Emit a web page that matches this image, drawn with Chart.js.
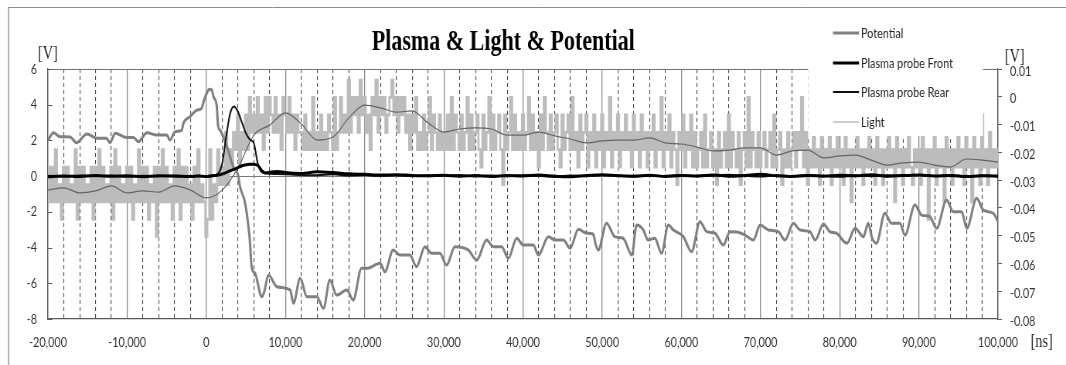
<!DOCTYPE html>
<html><head><meta charset="utf-8">
<script src="https://cdn.jsdelivr.net/npm/chart.js@4.4.1/dist/chart.umd.min.js"></script>
<style>
html,body{margin:0;padding:0;background:#fff;overflow:hidden;width:1066px;height:365px;}
#wrap{position:absolute;left:0;top:0;width:1379px;height:365px;transform:scaleX(0.7730239);transform-origin:0 0;}
</style></head><body>
<div id="wrap"><canvas id="c"></canvas></div>
<script>
// ---------------- DATA ----------------
const chartTitle = 'Plasma & Light & Potential';
const seriesNames = ['Potential', 'Plasma probe Front', 'Plasma probe Rear', 'Light'];
const xTickLabels = ['-20,000','-10,000','0','10,000','20,000','30,000','40,000','50,000','60,000','70,000','80,000','90,000','100,000'];

// Potential [V] (left axis)
const potNs = [-20000,-19300,-18500,-17200,-16400,-15100,-13800,-12600,-12200,-11500,-10100,-9200,-8600,-7500,-6300,-5000,-4600,-3950,-3100,-2900,-2050,-1200,-600,-290,50,350,700,900,1300,1500,1730,2600,3400,4000,4250,4900,5450,5750,6150,7000,7300,7850,8900,10600,11000,11850,12700,13950,14800,15600,16450,17750,18550,19600,20250,21950,22550,23600,24450,25700,26550,27600,28450,29500,30350,31400,33100,34150,35400,36250,37300,38150,39200,40050,41300,41950,43200,44050,45100,45950,47000,48050,48850,49200,49500,50550,51600,52650,53750,54350,55200,55800,56650,57500,58350,59000,60250,61300,62350,63200,64250,65300,66150,67000,68050,69100,69950,71000,72250,73100,74150,75000,76250,76900,77950,78750,79600,80900,81950,83000,83600,84100,84650,85700,86550,87600,88250,89500,90350,91400,92250,93500,94350,95400,96050,97300,98150,99400,100000];
const potV = [2.02,2.43,2.21,2.19,1.87,2.36,2.12,2.12,1.87,2.40,2.17,2.17,1.93,2.43,2.30,2.30,2.02,2.49,2.58,2.96,3.33,3.70,3.80,4.26,4.64,4.86,4.82,4.45,3.98,2.77,2.58,1.65,0.53,0.06,-0.59,-1.52,-3.39,-5.16,-5.44,-6.75,-6.49,-5.54,-6.19,-6.38,-7.12,-5.72,-6.75,-6.75,-7.40,-5.82,-6.66,-6.38,-6.94,-5.16,-5.16,-4.88,-5.35,-4.14,-4.42,-4.42,-5.07,-3.95,-4.32,-4.32,-4.98,-3.95,-4.14,-4.70,-3.58,-3.95,-3.95,-4.60,-3.48,-3.86,-3.86,-4.42,-3.39,-3.58,-3.58,-4.04,-2.98,-3.20,-3.24,-3.86,-4.14,-2.64,-3.39,-3.48,-4.42,-2.74,-3.02,-3.58,-3.48,-4.32,-2.74,-3.02,-3.39,-4.23,-2.55,-3.11,-3.20,-3.86,-3.11,-3.13,-3.30,-3.58,-2.74,-3.02,-3.11,-3.58,-2.64,-3.02,-3.11,-3.58,-2.68,-3.11,-3.20,-3.76,-2.92,-3.39,-2.64,-3.47,-3.76,-2.08,-2.64,-2.64,-3.30,-1.62,-2.18,-2.27,-2.92,-1.34,-1.99,-1.99,-2.92,-1.24,-1.90,-2.08,-2.55];

// Plasma probes [V] (left axis)
const probeNs = [-20000,-18000,-16000,-14000,-12000,-10000,-8000,-6000,-4000,-2000,-1000,0,500,1000,1500,2000,2500,3000,3500,4000,4500,5000,5500,6000,6500,7000,7500,8000,9000,10000,12000,14000,16000,18000,20000,22000,24000,26000,28000,30000,32000,34000,36000,38000,40000,42000,44000,46000,48000,50000,52000,54000,56000,58000,60000,62000,64000,66000,68000,70000,72000,74000,76000,78000,80000,82000,84000,86000,88000,90000,92000,94000,96000,98000,100000];
const frontV = [-0.03,0.01,-0.02,0.03,-0.01,0.02,-0.03,0.02,0.0,-0.02,0.01,-0.02,0.0,0.03,0.06,0.12,0.2,0.3,0.38,0.48,0.58,0.64,0.67,0.66,0.6,0.32,0.18,0.22,0.26,0.2,0.15,0.24,0.2,0.13,0.1,0.06,0.08,0.04,0.02,0.05,0.0,0.03,-0.02,0.04,0.01,0.06,0.0,-0.03,0.03,0.08,0.02,0.0,0.05,-0.02,0.03,0.01,0.06,0.0,0.04,0.1,0.02,-0.02,0.03,0.0,0.05,0.02,0.08,0.0,0.03,0.06,0.01,0.04,-0.02,0.02,0.0];
const rearV = [0.02,-0.02,0.04,0.0,0.03,-0.03,0.02,0.0,0.03,-0.01,0.02,0.0,0.03,0.06,0.15,0.7,2.2,3.5,3.9,3.6,3.0,2.4,2.05,1.85,0.7,0.22,0.16,0.14,0.12,0.1,0.06,0.05,0.1,0.04,0.06,0.02,0.05,0.0,0.04,0.01,0.06,-0.02,0.03,0.0,0.05,0.02,-0.03,0.04,0.0,0.06,0.03,-0.02,0.04,0.01,0.05,0.0,0.03,0.08,0.02,-0.02,0.04,0.0,0.06,0.02,-0.03,0.03,0.0,0.05,0.02,0.07,0.01,0.04,0.0,0.03,0.02];

// Light [V] (right axis): quantised oscilloscope levels, sampled every 250 ns from -20000 ns
const lightLevelV = [0.0060,-0.0002,-0.0065,-0.0128,-0.0190,-0.0253,-0.0316,-0.0378,-0.0441,-0.0503];
const lightStartNs = -20000;
const lightStepNs = 250;
const lightLevelIdx = [
5,7,5,7,4,7,6,8,5,7,5,7,6,7,4,8,5,7,5,7,
6,7,5,8,5,7,4,7,5,7,6,7,5,8,4,7,5,7,6,7,
5,7,5,8,6,7,4,7,5,7,5,8,6,7,5,9,5,7,4,7,
5,7,6,8,5,7,4,8,5,7,5,7,6,8,5,7,4,7,6,7,
9,8,4,8,6,7,4,6,5,6,3,6,4,5,3,4,2,5,3,4,
2,4,1,3,2,3,1,3,2,4,1,3,1,2,3,1,3,2,4,1,
2,3,1,3,2,4,2,3,3,4,2,4,3,4,1,4,3,4,2,4,
3,4,2,3,4,1,4,3,1,3,2,3,0,3,1,2,1,3,0,2,
1,3,2,4,1,2,0,3,1,2,1,3,2,1,0,2,1,3,1,2,
1,3,2,4,2,3,1,4,3,4,2,4,3,1,4,2,3,4,2,4,
3,4,2,4,1,4,2,3,4,2,4,3,1,4,2,4,3,2,4,5,
2,4,3,1,4,2,4,3,2,4,6,2,4,3,1,4,2,4,3,4,
2,4,3,1,4,2,4,3,5,2,4,1,3,4,2,4,3,2,4,5,
2,4,3,2,4,1,4,3,5,2,4,3,2,5,3,4,2,5,3,4,
2,5,3,4,1,5,3,4,2,5,3,4,2,4,3,5,2,4,3,5,
2,4,3,5,3,4,2,5,3,4,1,5,3,4,2,5,3,4,6,3,
4,2,5,3,4,2,5,3,5,4,3,5,2,5,4,3,5,4,6,3,
5,4,3,5,2,5,3,4,5,3,6,4,3,5,1,5,3,4,5,3,
5,4,3,5,4,3,5,2,5,4,3,6,4,5,3,5,4,3,5,3,
4,1,5,3,6,4,5,3,5,4,6,3,5,4,5,3,6,4,5,3,
5,4,6,3,5,4,7,4,5,3,5,4,6,4,5,3,5,4,6,3,
5,4,6,4,5,3,5,4,7,3,5,4,6,4,5,3,5,6,4,5,
4,6,3,5,4,8,4,5,3,6,4,5,4,7,3,5,4,6,4,5,
3,5,4,6,3,5,4,7,3,5,4,6,2,5,4,6,3,5,4,5,
4];

// Moving average of Light [V] (right axis), every 2000 ns from -20000 ns
const lightAvgStartNs = -20000;
const lightAvgStepNs = 2000;
const lightAvgV = [-0.0336,-0.0328,-0.0346,-0.0339,-0.0321,-0.0346,-0.0339,-0.0343,-0.0321,-0.0336,-0.0364,-0.0336,-0.0256,-0.0138,-0.0102,-0.0058,-0.0098,-0.0156,-0.0145,-0.0076,-0.0030,-0.0040,-0.0055,-0.0051,-0.0094,-0.0127,-0.0116,-0.0112,-0.0116,-0.0138,-0.0138,-0.0127,-0.0141,-0.0152,-0.0166,-0.0159,-0.0156,-0.0156,-0.0148,-0.0166,-0.0170,-0.0181,-0.0195,-0.0192,-0.0184,-0.0184,-0.0210,-0.0195,-0.0192,-0.0220,-0.0213,-0.0210,-0.0228,-0.0246,-0.0238,-0.0235,-0.0246,-0.0253,-0.0224,-0.0228,-0.0235];

// Axis ranges / ticks
const xMin = -20000, xMax = 100000, xMajor = 10000, xMinor = 2000;
const yMin = -8, yMax = 6, yStep = 2;
const y2Min = -0.08, y2Max = 0.01, y2Step = 0.01;

// ---------------- BUILD ----------------
const pairs = (xs, ys) => xs.map((x, i) => ({x: x, y: ys[i]}));
const lightPts = lightLevelIdx.map((k, i) => ({x: lightStartNs + i * lightStepNs, y: lightLevelV[k]}));
const avgPts = lightAvgV.map((v, i) => ({x: lightAvgStartNs + i * lightAvgStepNs, y: v}));

const SQ = 1066 / 1379;           // horizontal squeeze of the picture
const PX = v => v / SQ;           // final-x -> canvas-x
const AXIS = '#5a5a5a';

Chart.defaults.font.family = 'Lato, "Liberation Sans", sans-serif';

const decor = {
  id: 'decor',
  beforeDatasetsDraw(chart) {
    const {ctx, chartArea: a} = chart;
    ctx.save();
    ctx.strokeStyle = '#707070';
    ctx.lineWidth = 1;
    ctx.beginPath(); ctx.moveTo(a.left, Math.round(a.top) + 0.5); ctx.lineTo(a.right, Math.round(a.top) + 0.5); ctx.stroke();
    const ys = chart.scales.y;
    ctx.strokeStyle = AXIS;
    ys.ticks.forEach(t => {
      const yy = Math.round(ys.getPixelForValue(t.value)) + 0.5;
      ctx.beginPath(); ctx.moveTo(a.left, yy); ctx.lineTo(a.left + 5.5, yy); ctx.stroke();
    });
    ctx.restore();
  },
  afterDatasetsDraw(chart) {
    const {ctx} = chart;
    ctx.save();
    // legend
    ctx.fillStyle = '#ffffff';
    ctx.fillRect(PX(808), 12, PX(983) - PX(808), 124);
    const rows = [33, 63, 92, 122];
    const sampleW = [3, 3, 2, 1.6];
    for (let k = 0; k < 4; k++) {
      const ds = chart.data.datasets[k];
      ctx.strokeStyle = ds.borderColor;
      ctx.lineWidth = sampleW[k];
      ctx.beginPath(); ctx.moveTo(PX(833), rows[k]); ctx.lineTo(PX(859), rows[k]); ctx.stroke();
      ctx.fillStyle = '#262626';
      ctx.font = '14px Lato';
      ctx.textAlign = 'left'; ctx.textBaseline = 'middle';
      ctx.fillText(ds.label, PX(861), rows[k] + 0.5);
    }
    // title
    ctx.fillStyle = '#000';
    ctx.font = 'bold 28.5px "Liberation Serif"';
    ctx.textAlign = 'center'; ctx.textBaseline = 'alphabetic';
    ctx.fillText(chart.options.plugins.title.text, PX(503.3), 50);
    // unit labels
    ctx.fillStyle = '#262626';
    ctx.font = '18.5px "Liberation Serif"';
    ctx.fillText('[V]', PX(47.8), 59);
    ctx.fillText('[V]', PX(1014.7), 62);
    ctx.fillText('[ns]', PX(1041.7), 346.5);
    // outer frame
    ctx.strokeStyle = '#8c8c8c';
    ctx.lineWidth = 1;
    ctx.beginPath(); ctx.moveTo(PX(8), 7.5); ctx.lineTo(chart.width, 7.5); ctx.stroke();
    ctx.lineWidth = 1.3;
    ctx.beginPath(); ctx.moveTo(PX(8.5), 7); ctx.lineTo(PX(8.5), chart.height); ctx.stroke();
    ctx.restore();
  }
};

new Chart(document.getElementById('c'), {
  type: 'line',
  data: {
    datasets: [
      {label: seriesNames[0], data: pairs(potNs, potV), yAxisID: 'y', borderColor: 'rgb(128,128,128)', borderWidth: 3, pointRadius: 0, cubicInterpolationMode: 'monotone', order: 2},
      {label: seriesNames[1], data: pairs(probeNs, frontV), yAxisID: 'y', borderColor: '#000000', borderWidth: 3, pointRadius: 0, cubicInterpolationMode: 'monotone', order: 1},
      {label: seriesNames[2], data: pairs(probeNs, rearV), yAxisID: 'y', borderColor: '#111111', borderWidth: 2, pointRadius: 0, cubicInterpolationMode: 'monotone', order: 1},
      {label: seriesNames[3], data: lightPts, yAxisID: 'y2', borderColor: 'rgb(188,188,188)', borderWidth: 2.7, pointRadius: 0, stepped: 'middle', borderJoinStyle: 'miter', order: 5},
      {label: 'Light (moving average)', data: avgPts, yAxisID: 'y2', borderColor: 'rgb(100,100,100)', borderWidth: 1.2, pointRadius: 0, cubicInterpolationMode: 'monotone', order: 4}
    ]
  },
  options: {
    responsive: true,
    maintainAspectRatio: false,
    devicePixelRatio: 1,
    animation: false,
    parsing: false,
    layout: {padding: {top: 69, left: 0, right: 0, bottom: 0}},
    plugins: {
      legend: {display: false},
      tooltip: {enabled: false},
      title: {display: false, text: chartTitle}
    },
    scales: {
      x: {
        type: 'linear', position: 'bottom', min: xMin, max: xMax,
        ticks: {stepSize: xMajor, autoSkip: false, maxRotation: 0, padding: 15, color: '#333',
                font: {size: 14},
                callback: (v) => { const i = Math.round((v - xMin) / xMajor); return xTickLabels[i] ?? ''; }},
        grid: {color: '#8a8a8a', lineWidth: 1.3, drawTicks: false},
        border: {display: true, color: AXIS, width: 1.3},
        afterFit: (s) => { s.height = 46; }
      },
      xm: {
        type: 'linear', position: 'bottom', min: xMin, max: xMax,
        ticks: {display: false, stepSize: xMinor},
        grid: {drawTicks: false, lineWidth: 1.1,
               color: (c) => (Math.abs(c.tick.value % xMajor) < 1 ? 'rgba(0,0,0,0)' : '#4a4a4a')},
        border: {display: false, dash: [4, 3]},
        afterFit: (s) => { s.height = 0; }
      },
      y: {
        type: 'linear', position: 'left', min: yMin, max: yMax,
        ticks: {stepSize: yStep, padding: 14.2, color: '#333', font: {size: 14}},
        grid: {drawTicks: false, lineWidth: 1,
               color: (c) => (c.tick.value === 0 ? '#7a7a7a' : 'rgba(0,0,0,0)')},
        border: {display: true, color: AXIS, width: 1.3},
        afterFit: (s) => { s.width = PX(48); }
      },
      y2: {
        type: 'linear', position: 'right', min: y2Min, max: y2Max,
        ticks: {stepSize: y2Step, padding: 10.5, labelOffset: 2, color: '#333', font: {size: 14},
                callback: (v) => { const r = Math.round(v * 100) / 100; return r === 0 ? '0' : r.toFixed(2); }},
        grid: {drawOnChartArea: false, drawTicks: true, tickLength: 5, tickColor: AXIS, tickWidth: 1},
        border: {display: true, color: AXIS, width: 1.3},
        afterFit: (s) => { s.width = 1379 - PX(998); }
      }
    }
  },
  plugins: [decor]
});
</script>
</body></html>
